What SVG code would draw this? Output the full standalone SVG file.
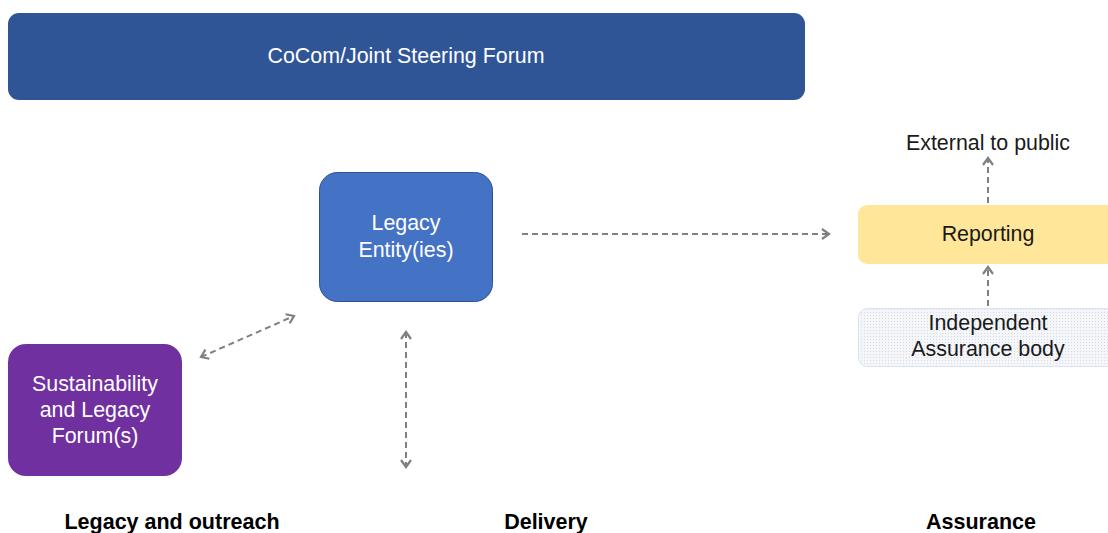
<svg xmlns="http://www.w3.org/2000/svg" width="1108" height="533" viewBox="0 0 1108 533">
<style>
.t{font-family:"Liberation Sans",Arial,sans-serif;font-size:21.4px;text-anchor:middle}
.w{fill:#ffffff}
.d{fill:#1a1a1a}
.h{font-family:"Liberation Sans",Arial,sans-serif;font-size:21.5px;font-weight:bold;text-anchor:middle;fill:#000}
.c{fill:none;stroke:#808080;stroke-width:2;stroke-dasharray:6 4}
</style>
<defs>
<marker id="ah" viewBox="0 0 12 12" refX="10" refY="6" markerWidth="12" markerHeight="12" markerUnits="userSpaceOnUse" orient="auto-start-reverse">
<path d="M3,1 L10,6 L3,11" fill="none" stroke="#808080" stroke-width="2.2"/>
</marker>
<pattern id="dots" width="3" height="3" patternUnits="userSpaceOnUse">
<rect width="3" height="3" fill="#f4f6fa"/>
<rect width="1" height="1" fill="#d6dbe4"/>
</pattern>
</defs>
<rect width="1108" height="533" fill="#ffffff"/>
<g id="steering">
<rect x="8" y="13" width="797" height="87" rx="11" fill="#2f5597"/>
<text class="t w" x="406" y="63">CoCom/Joint Steering Forum</text>
</g>
<g id="legacy-entity">
<rect x="319.5" y="172.5" width="173" height="129" rx="18" fill="#4472c4" stroke="#2f528f" stroke-width="1"/>
<text class="t w" x="406" y="230">Legacy</text>
<text class="t w" x="406" y="257">Entity(ies)</text>
</g>
<g id="sustainability">
<rect x="8" y="344" width="174" height="132" rx="18" fill="#7030a0"/>
<text class="t w" x="95" y="391">Sustainability</text>
<text class="t w" x="95" y="417">and Legacy</text>
<text class="t w" x="95" y="443">Forum(s)</text>
</g>
<g id="external">
<text class="t d" x="988" y="150">External to public</text>
</g>
<g id="reporting">
<rect x="858" y="205" width="262" height="59" rx="9" fill="#ffe699"/>
<text class="t d" x="988" y="241">Reporting</text>
</g>
<g id="assurance-body">
<rect x="858.5" y="308.5" width="262" height="58" rx="9" fill="url(#dots)" stroke="#dae3f3" stroke-width="1"/>
<text class="t d" x="988" y="330">Independent</text>
<text class="t d" x="988" y="356">Assurance body</text>
</g>
<g id="connectors">
<line class="c" x1="522" y1="234" x2="829" y2="234" marker-end="url(#ah)"/>
<line class="c" x1="988" y1="203" x2="988" y2="158" marker-end="url(#ah)"/>
<line class="c" x1="988" y1="306" x2="988" y2="267" marker-end="url(#ah)"/>
<line class="c" x1="201" y1="357" x2="294" y2="316" marker-start="url(#ah)" marker-end="url(#ah)"/>
<line class="c" x1="406" y1="332" x2="406" y2="467" marker-start="url(#ah)" marker-end="url(#ah)"/>
</g>
<g id="labels">
<text class="h" x="172" y="529">Legacy and outreach</text>
<text class="h" x="546" y="529">Delivery</text>
<text class="h" x="981" y="529">Assurance</text>
</g>
</svg>
